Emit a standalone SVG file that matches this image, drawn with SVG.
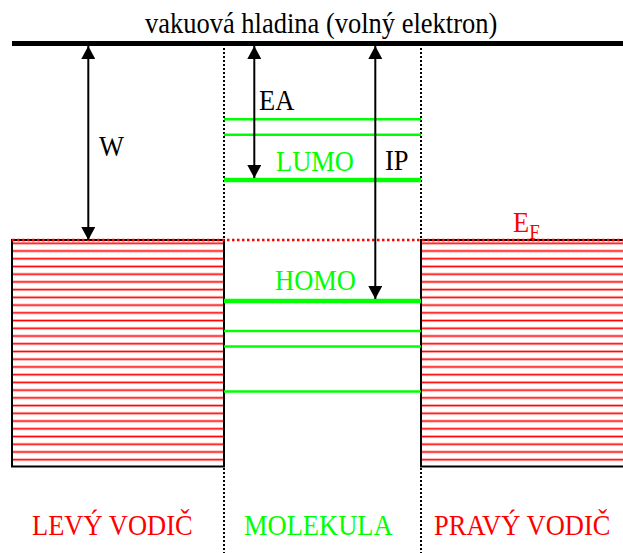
<svg xmlns="http://www.w3.org/2000/svg" width="623" height="553" viewBox="0 0 623 553" font-family="'Liberation Serif', 'DejaVu Serif', serif">
<style>
  text { font-family: 'Liberation Serif', 'DejaVu Serif', serif; font-size: 26.5px; }
  .blk { fill: #000; }
  .grn { fill: #00ff00; }
  .red { fill: #ff0000; }
  .sep { stroke: #000; stroke-width: 2; stroke-dasharray: 2 2; fill: none; }
  .lvl { stroke: #00ff00; stroke-width: 2.5; }
  .lvl-main { stroke: #00ff00; stroke-width: 4.5; }
  .box { stroke: #000; stroke-width: 2; }
  .arrow { stroke: #000; stroke-width: 2; fill: none; marker-start: url(#ah); marker-end: url(#ah); }
</style>
<defs>
  <marker id="ah" viewBox="0 0 13 14" refX="13" refY="7" markerWidth="13" markerHeight="14" markerUnits="userSpaceOnUse" orient="auto-start-reverse">
    <path d="M0,0 L13,7 L0,14 z" fill="#000"/>
  </marker>
  <pattern id="stripes" patternUnits="userSpaceOnUse" x="0" y="241.77" width="623" height="7.73">
    <rect x="0" y="0" width="623" height="3" fill="#ffc8c8"/>
    <rect x="0" y="0.8" width="623" height="1.4" fill="#ff0000"/>
  </pattern>
</defs>
<rect width="623" height="553" fill="#fff"/>

<g id="left-conductor">
  <rect x="12" y="240" width="212" height="226.5" fill="url(#stripes)" class="box"/>
</g>
<g id="right-conductor">
  <rect x="421" y="240" width="210" height="226.5" fill="url(#stripes)" class="box"/>
</g>

<g id="separators">
  <line x1="224" y1="48" x2="224" y2="553" class="sep"/>
  <line x1="421" y1="48" x2="421" y2="553" class="sep"/>
</g>

<g id="fermi-level">
  <line x1="12" y1="240" x2="623" y2="240" stroke="#ff0000" stroke-width="2.5" stroke-dasharray="2.5 2.5"/>
  <text class="red" transform="translate(513,232) scale(1,1.1)">E<tspan font-size="19" dy="6">F</tspan></text>
</g>

<g id="vacuum-level">
  <line x1="12" y1="43.5" x2="623" y2="43.5" stroke="#000" stroke-width="5"/>
  <text class="blk" transform="translate(145,33) scale(1,1.1)">vakuová hladina (volný elektron)</text>
</g>

<g id="molecule-levels">
  <line x1="224" y1="119.3" x2="421" y2="119.3" class="lvl"/>
  <line x1="224" y1="134.7" x2="421" y2="134.7" class="lvl"/>
  <line x1="224" y1="180" x2="421" y2="180" class="lvl-main"/>
  <line x1="224" y1="301" x2="421" y2="301" class="lvl-main"/>
  <line x1="224" y1="331" x2="421" y2="331" class="lvl"/>
  <line x1="224" y1="346.5" x2="421" y2="346.5" class="lvl"/>
  <line x1="224" y1="391.5" x2="421" y2="391.5" class="lvl"/>
  <text class="grn" transform="translate(276,171) scale(1,1.1)">LUMO</text>
  <text class="grn" transform="translate(275,290) scale(1,1.1)">HOMO</text>
</g>

<g id="connectors">
  <line x1="88.3" y1="46" x2="88.3" y2="240" class="arrow"/>
  <line x1="254.3" y1="46" x2="254.3" y2="178" class="arrow"/>
  <line x1="375.3" y1="46" x2="375.3" y2="299" class="arrow"/>
</g>

<g id="arrow-labels">
  <text class="blk" transform="translate(99,156) scale(1,1.1)">W</text>
  <text class="blk" transform="translate(259,110) scale(1,1.1)">EA</text>
  <text class="blk" transform="translate(385,170) scale(1,1.1)">IP</text>
</g>

<g id="region-labels">
  <text class="red" transform="translate(32,535) scale(1,1.1)">LEVÝ VODIČ</text>
  <text class="grn" transform="translate(244,535) scale(1,1.1)">MOLEKULA</text>
  <text class="red" transform="translate(434,535) scale(1,1.1)">PRAVÝ VODIČ</text>
</g>
</svg>
